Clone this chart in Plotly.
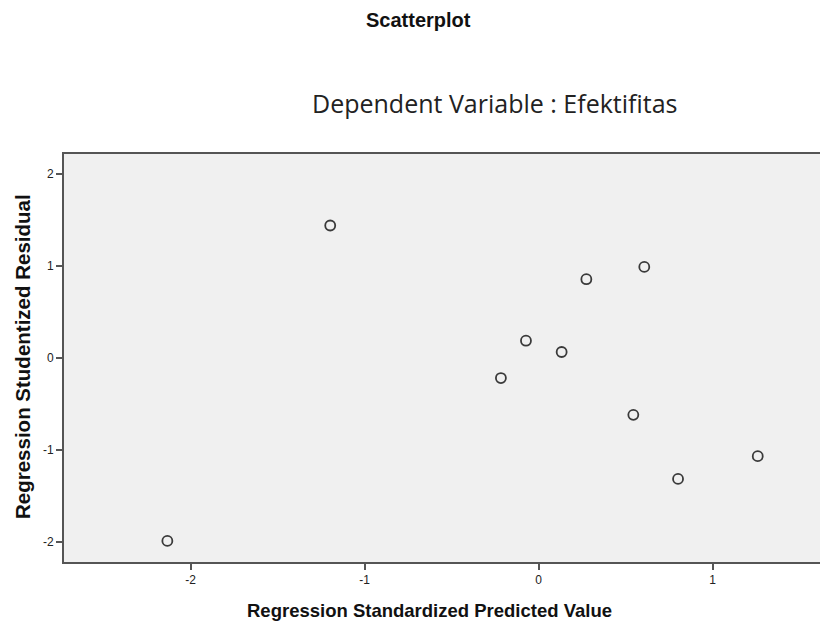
import plotly.graph_objects as go

predicted = [-2.133, -1.197, 0.608, 0.275, -0.072, 0.133, -0.216, 0.545, 0.802, 1.260]
residual = [-1.993, 1.438, 0.988, 0.854, 0.185, 0.062, -0.221, -0.621, -1.318, -1.071]
x_ticks = [-2, -1, 0, 1]
x_labels = ["-2", "-1", "0", "1"]
y_ticks = [-2, -1, 0, 1, 2]
y_labels = ["-2", "-1", "0", "1", "2"]

W, H = 828, 626
OFF = 8  # page body margin
L, R, T, B = 56, 0, 146, 72
pw, ph = W - L - R, H - T - B

def px(x):
    return (x - OFF - L) / pw

def py(y):
    return (H - B - (y - OFF)) / ph

fig = go.Figure(go.Scatter(
    x=predicted, y=residual, mode="markers",
    marker=dict(symbol="circle-open", size=10, color="#3a3a3a", line=dict(width=1.8)),
    showlegend=False, hoverinfo="x+y",
))

axis_common = dict(
    showgrid=False, zeroline=False, showline=True, linecolor="#555555", linewidth=2,
    ticks="outside", ticklen=6, tickwidth=2, tickcolor="#555555",
    tickfont=dict(family="Liberation Sans, Arial", size=12, color="#222222"),
)

fig.update_layout(
    width=W, height=H,
    margin=dict(l=L, r=R, t=T, b=B, pad=0),
    paper_bgcolor="white", plot_bgcolor="#f0f0f0",
    xaxis=dict(range=[-2.727, -2.727 + pw / 174.0], tickvals=x_ticks, ticktext=x_labels,
               mirror=True, **axis_common),
    yaxis=dict(range=[-2.222, 2.216], tickvals=y_ticks, ticktext=y_labels, **axis_common),
    annotations=[
        dict(text="<b>Scatterplot</b>", x=px(418), y=py(20), xref="paper", yref="paper",
             xanchor="center", yanchor="middle", showarrow=False,
             font=dict(family="Liberation Sans, Arial", size=20, color="#111111")),
        dict(text="Dependent Variable : Efektifitas", x=px(494), y=py(103), xref="paper", yref="paper",
             xanchor="center", yanchor="middle", showarrow=False,
             font=dict(family="Open Sans, Noto Sans", size=25, color="#222222")),
        dict(text="<b>Regression Standardized Predicted Value</b>", x=px(429), y=py(610),
             xref="paper", yref="paper", xanchor="center", yanchor="middle", showarrow=False,
             font=dict(family="Liberation Sans, Arial", size=18.5, color="#111111")),
        dict(text="<b>Regression Studentized Residual</b>", x=px(22), y=py(357),
             xref="paper", yref="paper", xanchor="center", yanchor="middle", showarrow=False,
             textangle=-90,
             font=dict(family="Liberation Sans, Arial", size=20.5, color="#111111")),
    ],
)

fig.write_html("out.html")
